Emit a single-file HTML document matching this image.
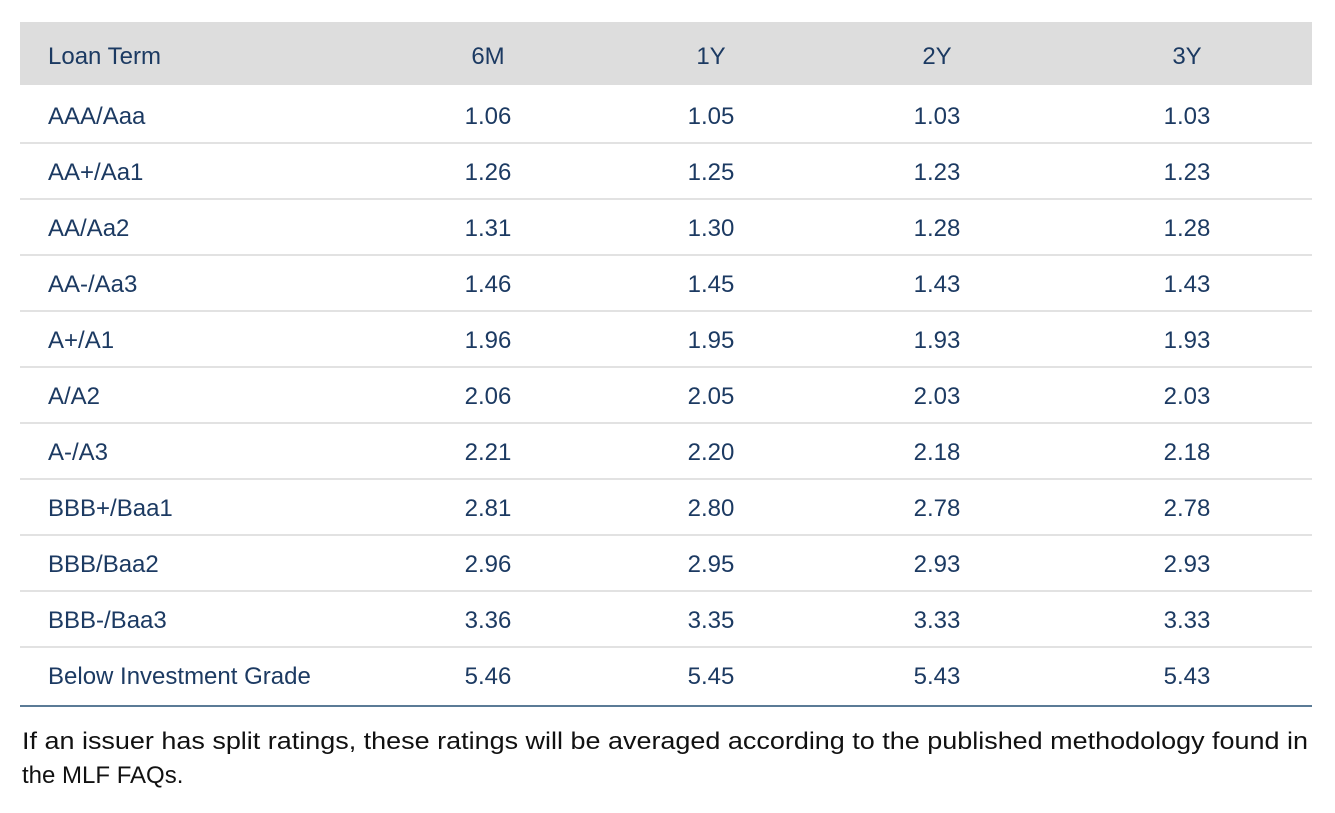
<!DOCTYPE html>
<html><head><meta charset="utf-8"><style>
html,body{margin:0;padding:0;background:#fff;width:1335px;height:813px;overflow:hidden}
svg{display:block}
text{font-family:"Liberation Sans",sans-serif}
</style></head><body>
<svg id="t" width="1335" height="813" xmlns="http://www.w3.org/2000/svg">
<rect x="20" y="22" width="1292" height="63" fill="#dddddd"/>
<g id="body"></g>
<line x1="20" x2="1312" y1="706" y2="706" stroke="#5b7b96" stroke-width="2"/>
<text x="22" y="749" font-size="24" fill="#111" textLength="1286" lengthAdjust="spacingAndGlyphs">If an issuer has split ratings, these ratings will be averaged according to the published methodology found in</text>
<text x="22" y="783" font-size="24" fill="#111">the MLF FAQs.</text>
</svg>
<script>
const columns=["6M","1Y","2Y","3Y"];
const ratings=["AAA/Aaa","AA+/Aa1","AA/Aa2","AA-/Aa3","A+/A1","A/A2","A-/A3","BBB+/Baa1","BBB/Baa2","BBB-/Baa3","Below Investment Grade"];
const v6M=["1.06","1.26","1.31","1.46","1.96","2.06","2.21","2.81","2.96","3.36","5.46"];
const v1Y=["1.05","1.25","1.30","1.45","1.95","2.05","2.20","2.80","2.95","3.35","5.45"];
const v2Y=["1.03","1.23","1.28","1.43","1.93","2.03","2.18","2.78","2.93","3.33","5.43"];
const v3Y=["1.03","1.23","1.28","1.43","1.93","2.03","2.18","2.78","2.93","3.33","5.43"];
const series=[v6M,v1Y,v2Y,v3Y];
const colX=[488,711,937,1187];
const NS="http://www.w3.org/2000/svg";
const g=document.getElementById('body');
const navy="#1c3a62";
function txt(x,y,s,anchor){const t=document.createElementNS(NS,'text');t.setAttribute('x',x);t.setAttribute('y',y);t.setAttribute('font-size','24');t.setAttribute('fill',navy);t.setAttribute('text-anchor',anchor);t.textContent=s;g.appendChild(t);return t;}
let h=txt(48,64,"Loan Term","start");


columns.forEach((c,j)=>{const e=txt(colX[j],64,c,"middle");

});
ratings.forEach((r,i)=>{
 const y=124+56*i;
 const l=txt(48,y,r,"start");
 
 
 series.forEach((s,j)=>{const c=txt(colX[j],y,s[i],"middle");
 
 });
 if(i<ratings.length-1){const ln=document.createElementNS(NS,'line');
 ln.setAttribute('x1',20);ln.setAttribute('x2',1312);ln.setAttribute('y1',143+56*i);ln.setAttribute('y2',143+56*i);
 ln.setAttribute('stroke','#d9d9d9');ln.setAttribute('stroke-width','1.5');
 
 
 g.appendChild(ln);}
});
</script>
</body></html>
